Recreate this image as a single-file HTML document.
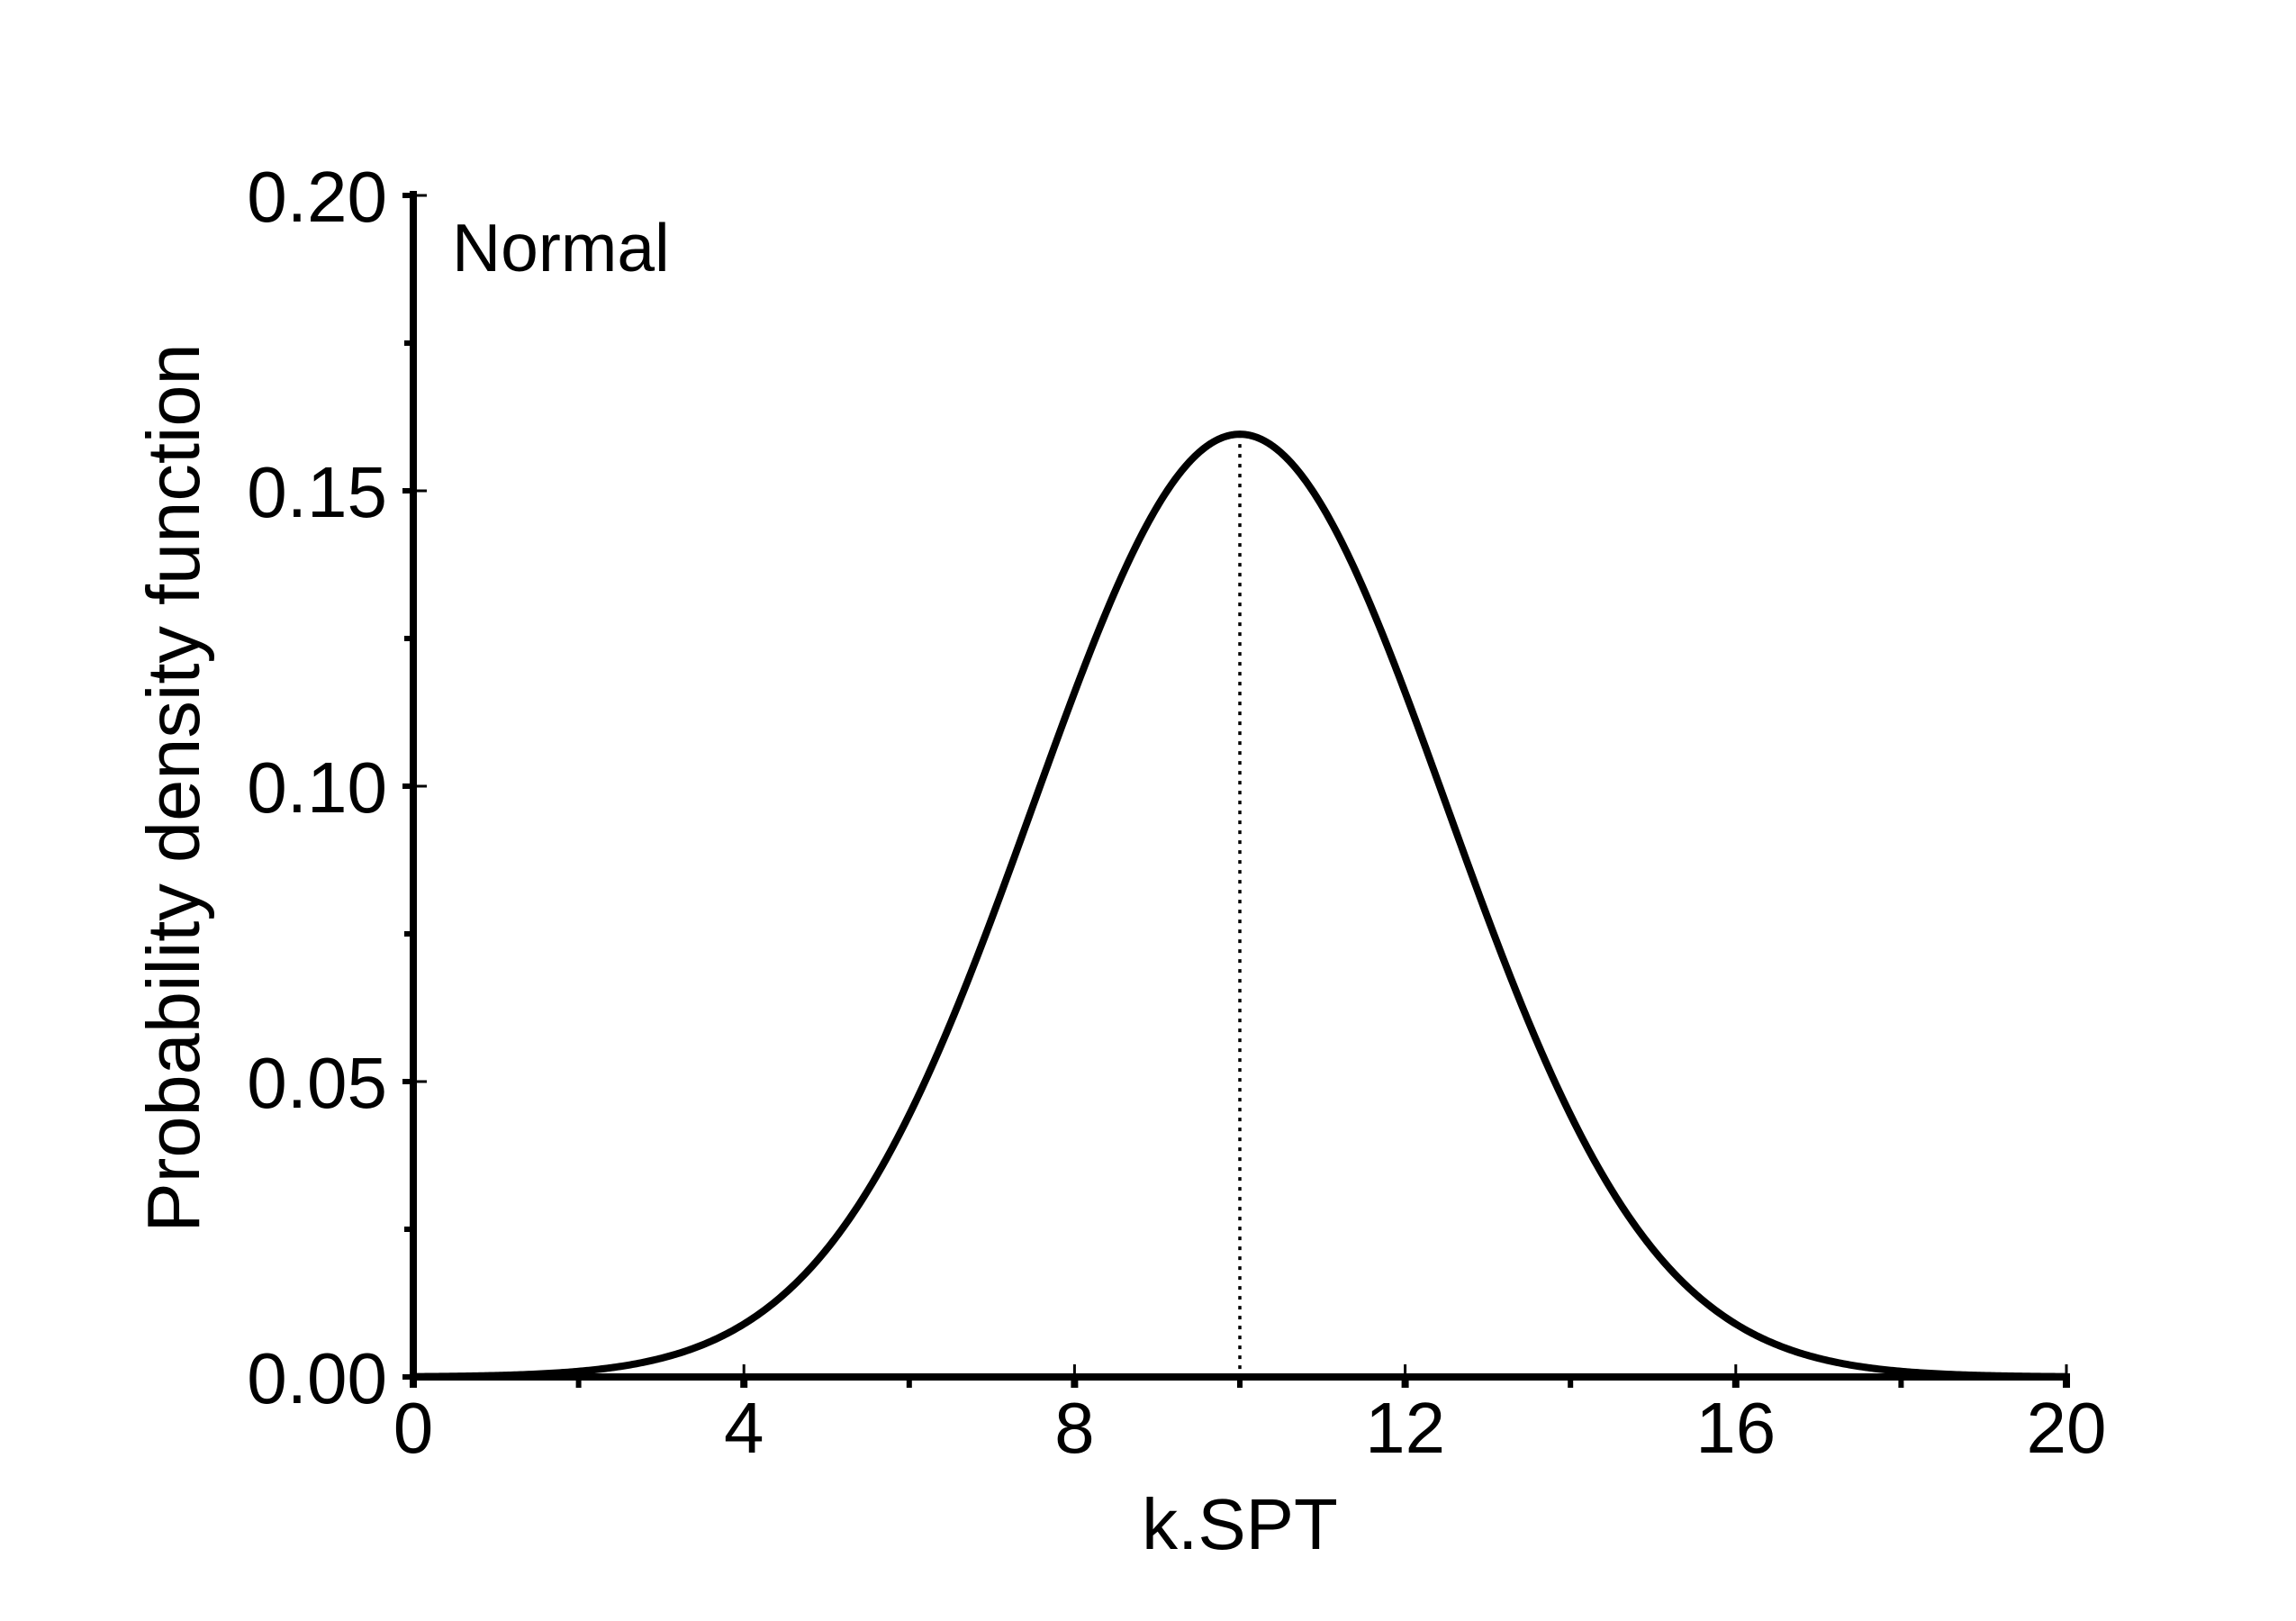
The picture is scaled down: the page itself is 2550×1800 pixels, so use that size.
<!DOCTYPE html>
<html><head><meta charset="utf-8"><style>
html,body{margin:0;padding:0;background:#fff;}
svg{display:block;}
text{font-family:"Liberation Sans",Arial,sans-serif;fill:#000;}
</style></head><body>
<svg id="chart" width="2550" height="1800" viewBox="0 0 2550 1800" xmlns="http://www.w3.org/2000/svg">
<rect width="2550" height="1800" fill="#fff"/>
<g id="ticks"></g>
<g id="marks"></g>
<line x1="459" y1="212" x2="459" y2="1533" stroke="#000" stroke-width="8"/>
<line x1="455" y1="1529" x2="2299" y2="1529" stroke="#000" stroke-width="8"/>
<text x="502" y="301" font-size="75">Normal</text>
<text x="1377" y="1720" font-size="80" text-anchor="middle">k.SPT</text>
<text x="0" y="0" font-size="83" text-anchor="middle" transform="translate(221,875) rotate(-90)">Probability density function</text>
</svg>
<script>
const distMean = [10];
const distSd = [2.5];
const xTicks = [0, 4, 8, 12, 16, 20];
const xTickLabels = ["0", "4", "8", "12", "16", "20"];
const xMinorTicks = [2, 6, 10, 14, 18];
const yTicks = [0, 0.05, 0.10, 0.15, 0.20];
const yTickLabels = ["0.00", "0.05", "0.10", "0.15", "0.20"];
const yMinorTicks = [0.025, 0.075, 0.125, 0.175];
const xDomain = [0, 20];
const yDomain = [0, 0.2];

const NS = "http://www.w3.org/2000/svg";
const X0 = 459, X1 = 2295, Y0 = 1529, Y1 = 217;
function xs(v){ return X0 + (v - xDomain[0]) / (xDomain[1] - xDomain[0]) * (X1 - X0); }
function ys(v){ return Y0 - (v - yDomain[0]) / (yDomain[1] - yDomain[0]) * (Y0 - Y1); }
function mk(tag, attrs, parent){
  const e = document.createElementNS(NS, tag);
  for (const k in attrs) e.setAttribute(k, attrs[k]);
  parent.appendChild(e);
  return e;
}
const ticks = document.getElementById('ticks');
const marks = document.getElementById('marks');

xTicks.forEach((t, i) => {
  const x = xs(t);
  const a = mk('line', {x1:x, y1:1515, x2:x, y2:1533, stroke:'#000', 'stroke-width':3}, ticks);
  
  
  const b = mk('line', {x1:x, y1:1529, x2:x, y2:1541, stroke:'#000', 'stroke-width':8}, ticks);
  
  
  const tx = mk('text', {x:x, y:1613, 'font-size':80, 'text-anchor':'middle'}, ticks);
  tx.textContent = xTickLabels[i];
  
  
});
xMinorTicks.forEach(t => {
  const x = xs(t);
  const a = mk('line', {x1:x, y1:1529, x2:x, y2:1541, stroke:'#000', 'stroke-width':6}, ticks);
  
  
});
yTicks.forEach((t, i) => {
  const y = ys(t);
  const a = mk('line', {x1:447, y1:y, x2:463, y2:y, stroke:'#000', 'stroke-width':6}, ticks);
  
  
  const b = mk('line', {x1:459, y1:y, x2:474, y2:y, stroke:'#000', 'stroke-width':3}, ticks);
  
  
  const tx = mk('text', {x:430, y:y + 29, 'font-size':80, 'text-anchor':'end'}, ticks);
  tx.textContent = yTickLabels[i];
  
  
});
yMinorTicks.forEach(t => {
  const y = ys(t);
  const a = mk('line', {x1:449, y1:y, x2:461, y2:y, stroke:'#000', 'stroke-width':6}, ticks);
  
  
});

const mu = distMean[0], sd = distSd[0];
function pdf(x){ return Math.exp(-0.5 * ((x - mu) / sd) ** 2) / (sd * Math.sqrt(2 * Math.PI)); }
let d = '';
const N = 800;
for (let i = 0; i <= N; i++) {
  const x = xDomain[0] + (xDomain[1] - xDomain[0]) * i / N;
  d += (i ? 'L' : 'M') + xs(x).toFixed(2) + ' ' + ys(pdf(x)).toFixed(2);
}
const peak = mk('line', {x1:xs(mu), y1:ys(pdf(mu)), x2:xs(mu), y2:Y0, stroke:'#000', 'stroke-width':3.5, 'stroke-dasharray':'4 7'}, marks);


const curve = mk('path', {d:d, fill:'none', stroke:'#000', 'stroke-width':8, 'stroke-linejoin':'round'}, marks);


</script>
</body></html>
